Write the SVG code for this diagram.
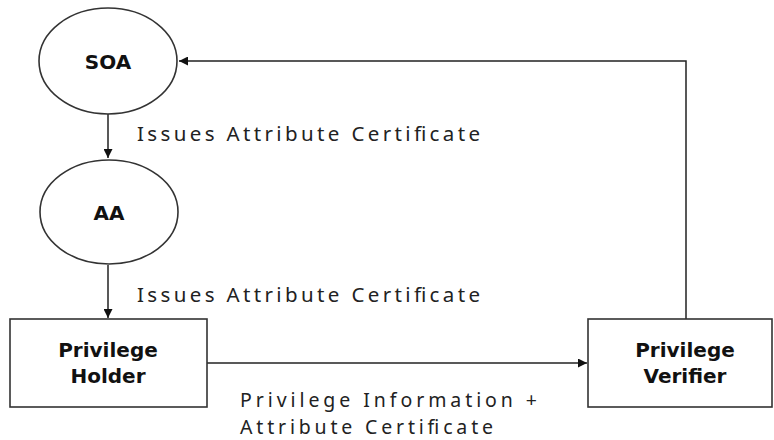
<svg xmlns="http://www.w3.org/2000/svg" width="774" height="440" viewBox="0 0 774 440">
  <style>
    .shape { fill: #ffffff; stroke: #333333; stroke-width: 1.6; }
    .node-text { font-family: "DejaVu Sans", "Liberation Sans", sans-serif; font-weight: bold; font-size: 20px; fill: #111111; text-anchor: middle; }
    .label { font-family: "Noto Sans", "Open Sans", "Liberation Sans", sans-serif; font-size: 20.5px; fill: #222222; }
    .label-sm { font-family: "Noto Sans", "Open Sans", "Liberation Sans", sans-serif; font-size: 19.5px; fill: #222222; }
    .conn { fill: none; stroke: #222222; stroke-width: 1.5; }
  </style>
  <defs>
    <marker id="arrow" viewBox="0 0 10 10" refX="10" refY="5" markerWidth="9" markerHeight="9" markerUnits="userSpaceOnUse" orient="auto">
      <path d="M0,0 L10,5 L0,10 z" fill="#111111"/>
    </marker>
  </defs>
  <rect width="774" height="440" fill="#ffffff"/>

  <g id="connectors">
    <line class="conn" x1="108" y1="114" x2="108" y2="158" marker-end="url(#arrow)"/>
    <line class="conn" x1="108" y1="265" x2="108" y2="318" marker-end="url(#arrow)"/>
    <line class="conn" x1="207" y1="363" x2="587" y2="363" marker-end="url(#arrow)"/>
    <polyline class="conn" points="686,319 686,61 179,61" marker-end="url(#arrow)"/>
  </g>

  <g id="labels">
    <text class="label" x="137" y="141" textLength="343" lengthAdjust="spacing">Issues Attribute Certificate</text>
    <text class="label" x="137" y="302" textLength="343" lengthAdjust="spacing">Issues Attribute Certificate</text>
    <text class="label-sm" x="240" y="407" textLength="297" lengthAdjust="spacing">Privilege Information +</text>
    <text class="label-sm" x="240" y="434" textLength="253" lengthAdjust="spacing">Attribute Certificate</text>
  </g>

  <g id="soa">
    <ellipse class="shape" cx="108" cy="61" rx="69" ry="53"/>
    <text class="node-text" x="108" y="69">SOA</text>
  </g>

  <g id="aa">
    <ellipse class="shape" cx="109" cy="212" rx="69" ry="52"/>
    <text class="node-text" x="109" y="220">AA</text>
  </g>

  <g id="privilege-holder">
    <rect class="shape" x="10" y="319" width="197" height="88"/>
    <text class="node-text" x="108" y="357">Privilege</text>
    <text class="node-text" x="108" y="383">Holder</text>
  </g>

  <g id="privilege-verifier">
    <rect class="shape" x="588" y="319" width="184" height="88"/>
    <text class="node-text" x="685" y="357">Privilege</text>
    <text class="node-text" x="685" y="383">Verifier</text>
  </g>
</svg>
